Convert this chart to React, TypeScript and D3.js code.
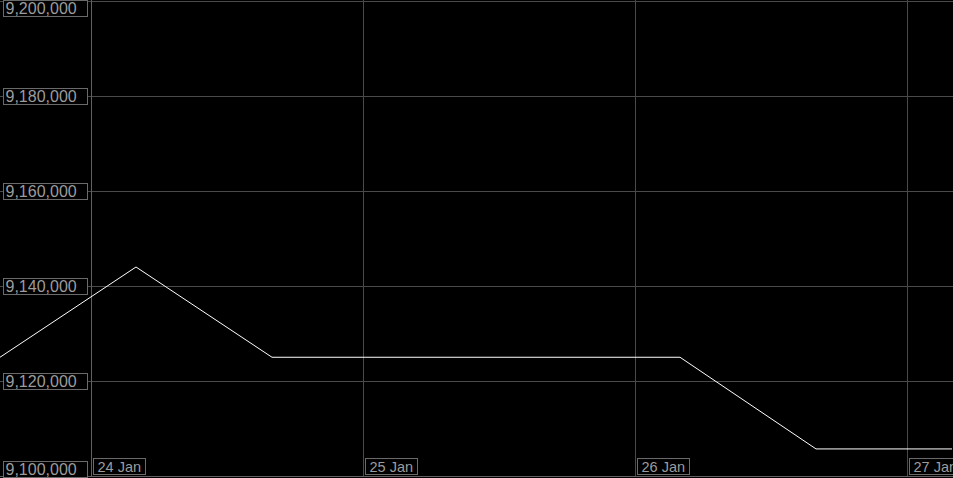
import React from "react";
import * as d3 from "d3";

const W = 953;
const H = 478;

const times: string[] = [
  "2024-01-23T16:00",
  "2024-01-24T04:00",
  "2024-01-24T16:00",
  "2024-01-25T04:00",
  "2024-01-25T16:00",
  "2024-01-26T04:00",
  "2024-01-26T16:00",
  "2024-01-27T04:00",
];
const values: number[] = [9125000, 9144000, 9125000, 9125000, 9125000, 9125000, 9105700, 9105700];
const yTicks: number[] = [9100000, 9120000, 9140000, 9160000, 9180000, 9200000];
const xTickDates: string[] = ["2024-01-24T00:00", "2024-01-25T00:00", "2024-01-26T00:00", "2024-01-27T00:00"];
const xTickLabels: string[] = ["24 Jan", "25 Jan", "26 Jan", "27 Jan"];

const parse = (s: string) => new Date(s);

export default function App() {
  const x = d3
    .scaleTime()
    .domain([parse("2024-01-23T16:00"), parse("2024-01-27T04:00")])
    .range([0, 952]);
  const y = d3.scaleLinear().domain([9100000, 9200000]).range([476, 1]);
  const fmt = d3.format(",");
  const data = times.map((t, i) => ({ t: parse(t), v: values[i] }));
  const line = d3
    .line<{ t: Date; v: number }>()
    .x((d) => x(d.t))
    .y((d) => y(d.v));

  const gridColor = "#4a4a4a";
  const boxColor = "#6a6a6a";
  const textColor = "#9c9c9c";
  const font = "Liberation Sans, Arial, sans-serif";
  const axisX = Math.round(x(parse(xTickDates[0]))) + 0.5;

  return (
    <svg
      width={W}
      height={H}
      style={{ position: "fixed", left: 0, top: 0, background: "#000", display: "block" }}
    >
      <rect x={0} y={0} width={W} height={H} fill="#000" />
      {yTicks.map((v) => {
        const yy = Math.round(y(v)) + 0.5;
        return <line key={"hg" + v} x1={0} x2={W} y1={yy} y2={yy} stroke={gridColor} strokeWidth={1} />;
      })}
      {xTickDates.map((d) => {
        const xx = Math.round(x(parse(d))) + 0.5;
        return <line key={"vg" + d} x1={xx} x2={xx} y1={0} y2={476} stroke={gridColor} strokeWidth={1} />;
      })}
      <line x1={axisX} x2={axisX} y1={0} y2={477} stroke="#606060" strokeWidth={1} />
      <line x1={0} x2={W} y1={476.5} y2={476.5} stroke="#606060" strokeWidth={1} />
      <path d={line(data) || ""} fill="none" stroke="#fff" strokeWidth={1} />
      {yTicks.map((v) => {
        const gy = Math.round(y(v));
        let top = gy - 8;
        if (top < 0) top = 0;
        if (top + 16 > 477) top = 461;
        return (
          <g key={"yl" + v}>
            <rect x={3.5} y={top + 0.5} width={84} height={16} fill="#000" stroke={boxColor} strokeWidth={1} />
            <text x={5.5} y={top + 13.5} fill={textColor} fontFamily={font} fontSize={16}>
              {fmt(v)}
            </text>
          </g>
        );
      })}
      {xTickDates.map((d, i) => {
        const xx = Math.round(x(parse(d)));
        return (
          <g key={"xl" + d}>
            <rect x={xx + 2.5} y={458.5} width={52} height={16} fill="#000" stroke={boxColor} strokeWidth={1} />
            <text x={xx + 6.5} y={471.5} fill={textColor} fontFamily={font} fontSize={14.5}>
              {xTickLabels[i]}
            </text>
          </g>
        );
      })}
    </svg>
  );
}
